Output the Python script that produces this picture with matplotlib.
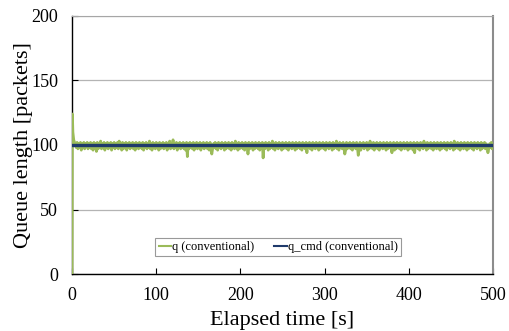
import numpy as np
import matplotlib.pyplot as plt

plt.rcParams['font.family'] = ['Liberation Serif', 'DejaVu Serif']

# q (conventional): start transient, then one sample per second
t_start = [0, 0.4]
q_start = [0, 124]
q_rows = [
    [110, 104, 102, 101, 98, 102, 97, 101, 98, 102, 96, 101, 98, 102, 97, 101, 99, 102, 97, 101],
    [98, 102, 97, 101, 96, 102, 98, 101, 95, 102, 97, 101, 98, 103, 97, 101, 98, 102, 96, 101],
    [98, 102, 97, 101, 98, 102, 96, 101, 98, 102, 97, 101, 98, 102, 97, 103, 98, 101, 96, 102],
    [97, 101, 98, 102, 96, 101, 98, 102, 97, 101, 98, 102, 97, 101, 96, 102, 98, 101, 97, 102],
    [98, 101, 97, 102, 96, 101, 98, 102, 97, 101, 98, 103, 97, 101, 96, 102, 98, 101, 97, 102],
    [98, 101, 96, 102, 97, 101, 98, 102, 97, 101, 98, 102, 96, 101, 98, 103, 97, 101, 98, 104],
    [97, 101, 98, 102, 96, 101, 98, 102, 97, 101, 98, 102, 97, 101, 96, 102, 91, 101, 97, 102],
    [98, 101, 97, 102, 96, 101, 98, 102, 97, 101, 98, 102, 96, 101, 98, 102, 97, 101, 98, 102],
    [97, 101, 96, 102, 98, 93, 97, 101, 98, 102, 97, 101, 96, 102, 98, 101, 97, 102, 98, 101],
    [96, 102, 97, 101, 98, 102, 97, 101, 96, 102, 98, 101, 97, 103, 98, 101, 96, 102, 97, 101],
    [98, 102, 97, 101, 96, 102, 98, 101, 93, 102, 97, 101, 98, 102, 96, 101, 97, 102, 98, 101],
    [97, 102, 96, 101, 98, 102, 90, 101, 97, 102, 98, 101, 96, 102, 97, 101, 98, 103, 97, 101],
    [96, 102, 98, 101, 97, 102, 98, 101, 96, 102, 97, 101, 98, 102, 97, 101, 96, 102, 98, 101],
    [97, 102, 98, 101, 96, 102, 97, 101, 98, 102, 97, 101, 96, 102, 98, 101, 97, 102, 94, 101],
    [98, 102, 97, 101, 96, 102, 98, 101, 97, 102, 98, 101, 96, 102, 97, 101, 98, 102, 97, 101],
    [96, 102, 98, 101, 97, 102, 98, 101, 96, 102, 97, 101, 98, 103, 97, 101, 96, 102, 98, 101],
    [97, 102, 98, 93, 96, 102, 97, 101, 98, 102, 97, 101, 96, 102, 98, 101, 97, 102, 98, 92],
    [97, 102, 96, 101, 98, 102, 97, 101, 98, 102, 96, 101, 97, 103, 98, 101, 97, 102, 96, 101],
    [98, 102, 97, 101, 96, 102, 98, 101, 97, 102, 98, 101, 96, 102, 97, 101, 98, 102, 97, 94],
    [98, 102, 96, 101, 97, 102, 98, 101, 97, 102, 96, 101, 98, 102, 97, 101, 98, 102, 96, 101],
    [97, 102, 98, 101, 96, 102, 94, 101, 98, 102, 97, 101, 96, 102, 98, 101, 97, 103, 98, 101],
    [96, 102, 97, 101, 98, 102, 97, 101, 96, 102, 98, 101, 97, 102, 98, 101, 96, 102, 97, 101],
    [98, 102, 97, 101, 96, 102, 98, 101, 97, 102, 98, 101, 96, 103, 97, 101, 98, 102, 97, 101],
    [96, 102, 98, 101, 97, 102, 98, 101, 96, 102, 97, 101, 98, 102, 97, 101, 96, 102, 98, 101],
    [97, 102, 98, 101, 96, 102, 97, 101, 98, 102, 97, 101, 98, 94, 97, 101, 98, 102, 97, 101],
]
q_vals = q_start + [v for row in q_rows for v in row]
q_time = t_start + list(range(1, 501))

# q_cmd (conventional)
cmd_time = [0, 500]
cmd_vals = [100, 100]

x_ticks = [0, 100, 200, 300, 400, 500]
y_ticks = [0, 50, 100, 150, 200]

fig = plt.figure(figsize=(5.09, 3.31), dpi=100)
ax = fig.add_axes([0.1415, 0.172, 0.827, 0.78])

ax.plot(q_time, q_vals, color='#9BBB59', lw=2.0, label='q (conventional)', zorder=3)
ax.plot(cmd_time, cmd_vals, color='#1F3A6B', lw=2.4, label='q_cmd (conventional)', zorder=4)

ax.set_xlim(0, 500)
ax.set_ylim(0, 200)
ax.set_xticks(x_ticks)
ax.set_yticks(y_ticks)
ax.yaxis.grid(True, color='#B4B4B4', lw=0.9)
ax.set_axisbelow(True)
ax.tick_params(direction='in', labelsize=13, length=4, width=0.8)
ax.tick_params(axis='y', pad=10)
ax.tick_params(axis='x', pad=9)

ax.spines['top'].set_color('#A6A6A6')
ax.spines['right'].set_color('#8C8C8C')
ax.spines['right'].set_linewidth(1.5)
ax.spines['left'].set_linewidth(1.0)
ax.spines['bottom'].set_linewidth(1.0)

ax.set_xlabel('Elapsed time [s]', fontsize=16, labelpad=5)
ax.set_ylabel('Queue length [packets]', fontsize=16)
ax.yaxis.set_label_coords(-0.093, 0.5)

leg = ax.legend(loc='lower center', bbox_to_anchor=(0.49, 0.045), ncol=2, fontsize=9,
                frameon=True, fancybox=False, edgecolor='#808080', handlelength=1.0,
                handletextpad=0.1, columnspacing=1.6, borderpad=0.25)
leg.get_frame().set_linewidth(0.8)
for h in leg.get_lines():
    h.set_linewidth(1.5)

plt.savefig('out.png', dpi=100)
